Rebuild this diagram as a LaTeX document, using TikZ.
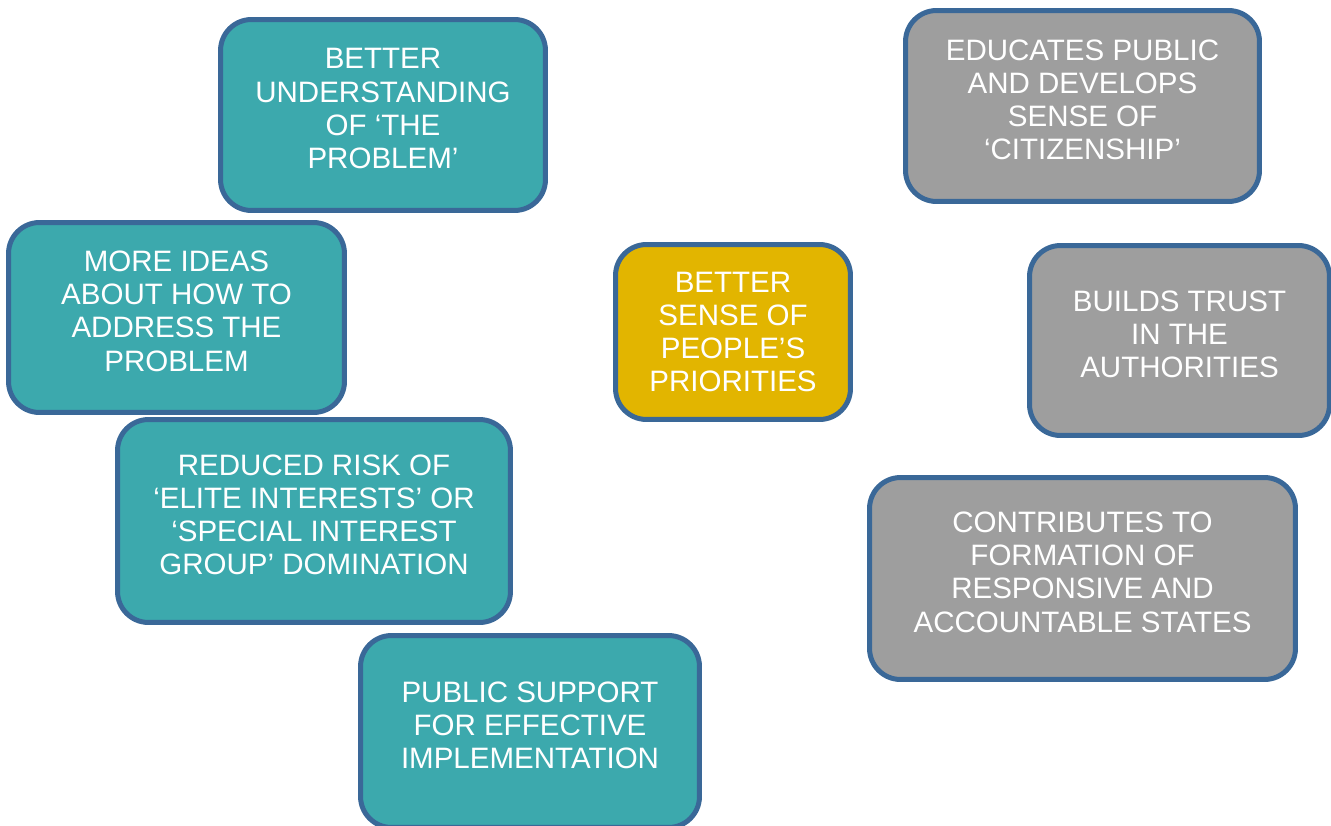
\documentclass[tikz,border=0pt]{standalone}
\usepackage{fontspec}
\setmainfont{Liberation Sans}
\usetikzlibrary{positioning}

\definecolor{tealfill}{RGB}{60,169,173}
\definecolor{greyfill}{RGB}{158,158,158}
\definecolor{goldfill}{RGB}{226,181,0}
\definecolor{boxline}{RGB}{58,104,152}

\begin{document}
\begin{tikzpicture}[
    x=0.02cm, y=-0.02cm,
    box/.style={rectangle, draw=boxline, line width=0.1cm, rounded corners=0.62cm, text=white, align=center, font=\fontsize{16.8pt}{18.9pt}\selectfont, text depth=0.26cm},
    benefit/.style={box, fill=tealfill},
    civic/.style={box, fill=greyfill},
    core/.style={box, fill=goldfill, text depth=0cm}
]

\useasboundingbox (0,0) rectangle (1331,825);
\clip (0,0) rectangle (1331,825);

% Left column: benefits for policy
\node[benefit, minimum width=6.5cm, minimum height=3.82cm] (understanding) at (383,115) {BETTER\\UNDERSTANDING\\OF ‘THE\\PROBLEM’};
\node[benefit, minimum width=6.72cm, minimum height=3.8cm] (ideas) at (176.5,317.5) {MORE IDEAS\\ABOUT HOW TO\\ADDRESS THE\\PROBLEM};
\node[benefit, minimum width=7.86cm, minimum height=4.06cm] (reducedRisk) at (314,521) {REDUCED RISK OF\\‘ELITE INTERESTS’ OR\\‘SPECIAL INTEREST\\GROUP’ DOMINATION};
\node[benefit, minimum width=6.78cm, minimum height=3.84cm] (publicSupport) at (530,731.5) {PUBLIC SUPPORT\\FOR EFFECTIVE\\IMPLEMENTATION};

% Centre
\node[core, minimum width=4.7cm, minimum height=3.5cm] (priorities) at (733,332) {BETTER\\SENSE OF\\PEOPLE’S\\PRIORITIES};

% Right column: benefits for citizens and state
\node[civic, minimum width=7.08cm, minimum height=3.82cm] (citizenship) at (1082.5,106) {EDUCATES PUBLIC\\AND DEVELOPS\\SENSE OF\\‘CITIZENSHIP’};
\node[civic, minimum width=6cm, minimum height=3.8cm] (trust) at (1179.5,340.5) {BUILDS TRUST\\IN THE\\AUTHORITIES};
\node[civic, minimum width=8.52cm, minimum height=4.04cm] (states) at (1082.5,578.5) {CONTRIBUTES TO\\FORMATION OF\\RESPONSIVE AND\\ACCOUNTABLE STATES};

\end{tikzpicture}
\end{document}
